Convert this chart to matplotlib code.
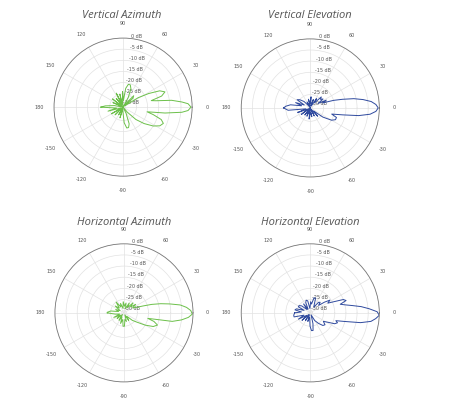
import numpy as np
import matplotlib.pyplot as plt

# antenna patterns, angle in degrees and gain in dB
va_ang = [-180, -172, -165, -158, -150, -143, -136, -128, -120, -113, -106, -99, -92, -86, -80,
          -75, -70, -64, -57, -50, -44, -38, -32, -27, -22, -18, -14, -11, -8, -5, -3, 0, 3, 5,
          8, 11, 13, 16, 20, 24, 28, 32, 37, 42, 47, 52, 57, 62, 67, 72, 77, 82, 87, 92, 98,
          104, 110, 116, 122, 128, 135, 142, 149, 156, 163, 170, 176, 180]
va_db = [-21, -28, -24, -30, -25, -30, -26, -31, -27, -30, -26, -30, -29, -24, -21.5,
         -21.5, -23, -28, -31, -28, -23, -19, -15, -12.5, -11.5, -13, -17, -20, -12, -4.5, -1.8, -0.5, -1.8, -4.5,
         -9, -16, -18, -13, -11, -13, -18, -23, -30, -25, -24, -29, -31, -26, -22, -20.5, -20.5, -22.5, -28, -24, -30,
         -25, -29, -24, -30, -26, -31, -25, -30, -26, -31, -27, -23, -21]

ve_ang = [-180, -174, -168, -160, -152, -144, -136, -128, -120, -112, -104, -96, -88, -80, -72,
          -64, -56, -48, -42, -36, -30, -25, -20, -16, -12, -9, -6, -3, 0, 3, 6, 9, 12, 15, 18,
          22, 26, 30, 35, 40, 45, 50, 56, 62, 70, 78, 86, 94, 102, 110, 118, 126, 134, 142,
          148, 154, 160, 166, 171, 176, 180]
ve_db = [-19, -21, -29, -25, -30, -26, -31, -27, -30, -27, -30, -26, -29, -27, -31,
         -27, -30, -26, -29, -24, -20, -18.5, -18.5, -21, -16, -9, -4, -1.5, -0.5, -1.5, -3.5, -7, -11, -16, -20,
         -25, -23, -27, -24, -25, -24, -28, -26, -30, -27, -30, -26, -29, -27, -31, -28, -30, -27, -25,
         -24, -28, -24, -27, -22, -20, -19]

ha_ang = [-180, -172, -164, -156, -148, -140, -132, -124, -116, -108, -100, -94, -88, -82, -74,
          -66, -58, -50, -42, -36, -30, -25, -20, -16, -13, -10, -7, -4, -1, 2, 5, 8, 11, 14, 17,
          20, 24, 30, 36, 42, 48, 55, 62, 70, 78, 86, 94, 102, 110, 118, 126, 134, 142, 150,
          158, 166, 172, 178, 180]
ha_db = [-23.5, -27, -29, -26, -29, -27, -30, -27, -29, -26, -28, -25, -25, -28, -27,
         -30, -27, -29, -26, -24, -20, -16.5, -15, -17, -20, -9, -5, -2, -0.3, -1, -2.8, -5.5, -10, -14, -18,
         -22, -25, -26.5, -24.5, -27, -25, -28, -26, -29, -26.5, -28, -26, -29, -26.5, -28, -25, -28, -26, -29,
         -27, -28.5, -25, -23.5, -23.5]

he_ang = [-180, -172, -166, -160, -152, -145, -138, -130, -122, -114, -106, -98, -91, -86, -81,
          -76, -68, -60, -52, -45, -39, -33, -28, -24, -20, -17, -14, -11, -8, -5, -2, 1, 4, 7,
          10, 13, 16, 19, 22, 25, 29, 33, 37, 42, 47, 52, 58, 64, 70, 76, 82, 88, 95, 102,
          108, 114, 120, 127, 134, 141, 147, 153, 158, 164, 169, 174, 180]
he_db = [-24, -23.5, -23.5, -28, -25, -29, -26, -30, -27, -30, -27, -29, -25, -23, -23,
         -26, -30, -27, -25, -23, -22.5, -24, -22, -19, -18, -19, -15, -8, -3.5, -1.5, 0, -1, -4.5, -8,
         -12, -15, -17, -14, -15, -19, -22, -20.5, -23, -26, -24.5, -25, -28, -27, -24, -24, -27, -26, -29, -25.5,
         -25, -26, -29, -26, -29, -26, -25, -25, -28, -24.5, -24, -27, -24]

titles = ["Vertical Azimuth", "Vertical Elevation", "Horizontal Azimuth", "Horizontal Elevation"]
r_ticks = [0, -5, -10, -15, -20, -25, -30]
r_labels = ["0 dB", "-5 dB", "-10 dB", "-15 dB", "-20 dB", "-25 dB", "-30 dB"]
theta_ticks = [0, 30, 60, 90, 120, 150, 180, 210, 240, 270, 300, 330]
theta_labels = ["0", "30", "60", "90", "120", "150", "180", "-150", "-120", "-90", "-60", "-30"]

green = "#6cc04a"
blue = "#2f4a9e"

panels = [
    (va_ang, va_db, green, [0.120, 0.565, 0.307, 0.341], (0.271, 0.962)),
    (ve_ang, ve_db, blue, [0.536, 0.563, 0.307, 0.341], (0.689, 0.962)),
    (ha_ang, ha_db, green, [0.122, 0.057, 0.307, 0.341], (0.276, 0.450)),
    (he_ang, he_db, blue, [0.536, 0.057, 0.307, 0.341], (0.689, 0.450)),
]

fig = plt.figure(figsize=(4.5, 4.05), dpi=100)

for (ang, db, col, pos, tpos), title in zip(panels, titles):
    ax = fig.add_axes(pos, projection="polar")
    ax.plot(np.deg2rad(ang), db, color=col, lw=0.7)
    ax.set_ylim(-31, 0)
    ax.set_yticks(r_ticks)
    ax.set_yticklabels(r_labels, fontsize=3.5, color="#555555")
    ax.set_rlabel_position(83)
    ax.set_thetagrids(theta_ticks, theta_labels, fontsize=3.5, color="#555555")
    ax.tick_params(axis="x", pad=0)
    ax.grid(color="#e2e2e2", lw=0.5)
    ax.spines["polar"].set_color("#777777")
    ax.spines["polar"].set_linewidth(0.6)
    fig.text(tpos[0], tpos[1], title, ha="center", va="center", fontsize=8,
             style="italic", color="#555555", family="Open Sans")

fig.savefig("out.png", dpi=100)
